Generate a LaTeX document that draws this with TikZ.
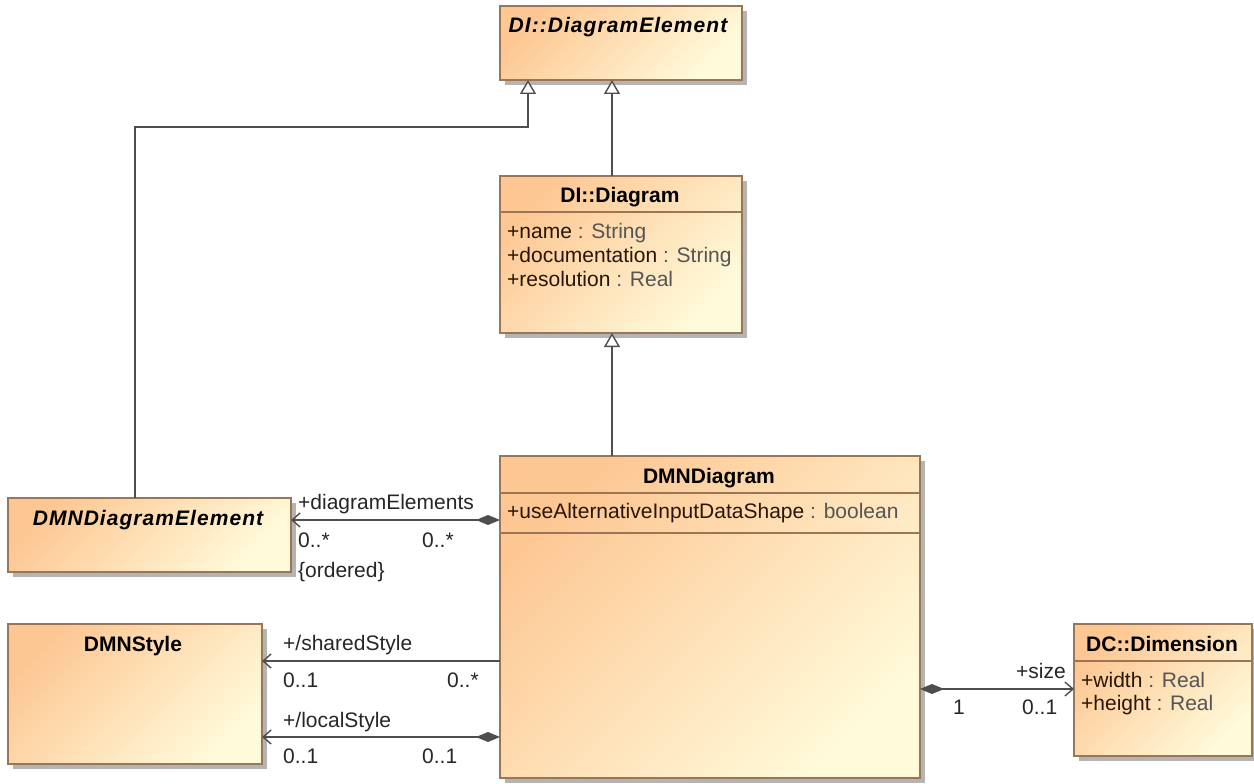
\documentclass[tikz,border=0pt]{standalone}
\usepackage{fontspec}
\setmainfont{Liberation Sans}
\usetikzlibrary{arrows.meta,shadows}
\definecolor{cA}{HTML}{FDC793}
\definecolor{cB}{HTML}{FFFADA}
\definecolor{brd}{HTML}{9A7656}
\definecolor{shd}{HTML}{B4B4B4}
\definecolor{lnc}{HTML}{4E4E4E}
\definecolor{nmc}{HTML}{2A1608}
\definecolor{tyc}{HTML}{555555}
\newcommand{\nm}[1]{\textcolor{nmc}{#1}}
\newcommand{\ty}[1]{\textcolor{tyc}{#1}}
\begin{document}
\begin{tikzpicture}[x=1pt,y=-1pt,
  font=\fontsize{21}{24}\selectfont,
  cls/.style={draw=brd, line width=1.2pt, top color=cA, bottom color=cB, shading angle=45,
    inner sep=0pt, outer sep=0pt, anchor=north west,
    drop shadow={shadow xshift=5pt, shadow yshift=-5pt, fill=shd, opacity=1}},
  divider/.style={draw=brd, line width=1.2pt},
  ttl/.style={anchor=base, inner sep=0pt, font=\fontsize{21}{24}\selectfont\bfseries},
  ittl/.style={anchor=base, inner sep=0pt, font=\fontsize{21}{24}\selectfont\bfseries\itshape\addfontfeature{LetterSpace=5}},
  attr/.style={anchor=base west, inner sep=0pt},
  lbl/.style={anchor=base west, inner sep=0pt, text=black!85},
  gen/.style={draw=lnc, line width=1.4pt, -{Triangle[open, length=14pt, width=16pt, fill=white]}},
  nav/.style={draw=lnc, line width=1.4pt, -{Straight Barb[length=8pt, width=14pt]}},
  compnav/.style={draw=lnc, line width=1.4pt, {Diamond[length=24pt, width=10pt, fill=lnc]}-{Straight Barb[length=8pt, width=14pt]}}
]
\useasboundingbox (0,0) rectangle (1254,784);
\fill[white] (0,0) rectangle (1254,784);

% classes
\node[cls, minimum width=242pt, minimum height=74pt] (de) at (500,6) {};
\node[cls, minimum width=242pt, minimum height=157pt] (dia) at (500,176) {};
\node[cls, minimum width=420pt, minimum height=322pt] (dmn) at (500,456) {};
\node[cls, minimum width=283pt, minimum height=74pt] (dme) at (8,498) {};
\node[cls, minimum width=254pt, minimum height=140pt] (sty) at (8,624) {};
\node[cls, minimum width=178pt, minimum height=132pt] (dim) at (1074,624) {};

% compartments
\draw[divider] (dia.west |- 0,212) -- (dia.east |- 0,212);
\draw[divider] (dmn.west |- 0,493) -- (dmn.east |- 0,493);
\draw[divider] (dmn.west |- 0,533) -- (dmn.east |- 0,533);
\draw[divider] (dim.west |- 0,661) -- (dim.east |- 0,661);

% titles
\node[ittl] (deT) at (618,33) {DI::DiagramElement};
\node[ttl] (diaT) at (620,202) {DI::Diagram};
\node[ttl] (dmnT) at (709,483) {DMNDiagram};
\node[ittl] (dmeT) at (148,525) {DMNDiagramElement};
\node[ttl] (styT) at (133,651) {DMNStyle};
\node[ttl] (dimT) at (1162,651) {DC::Dimension};

% attributes
\node[attr] (a1) at (507,238) {\nm{+name} \ty{: String}};
\node[attr] (a2) at (507,262) {\nm{+documentation} \ty{: String}};
\node[attr] (a3) at (507,286) {\nm{+resolution} \ty{: Real}};
\node[attr] (a4) at (507,518) {\nm{+useAlternativeInputDataShape} \ty{: boolean}};
\node[attr] (a5) at (1081,687) {\nm{+width} \ty{: Real}};
\node[attr] (a6) at (1081,710) {\nm{+height} \ty{: Real}};

% generalizations
\coordinate (gx) at (612,0);
\coordinate (b0) at (135,127);
\coordinate (b1) at (528,127);
\draw[gen] (dia.north -| gx) -- (de.south -| gx);
\draw[gen] (dmn.north -| gx) -- (dia.south -| gx);
\draw[gen] (dme.north -| b0) -- (b0) -- (b1) -- (de.south -| b1);

% associations
\draw[compnav] (dmn.west |- 0,520) -- (dme.east |- 0,520);
\draw[nav] (dmn.west |- 0,661) -- (sty.east |- 0,661);
\draw[compnav] (dmn.west |- 0,737) -- (sty.east |- 0,737);
\draw[compnav] (dmn.east |- 0,689) -- (dim.west |- 0,689);

% association labels
\node[lbl] (l1) at (298,509) {+diagramElements};
\node[lbl] (l2) at (298,547) {0..*};
\node[lbl] (l3) at (422,547) {0..*};
\node[lbl] (l4) at (298,577) {\{ordered\}};
\node[lbl] (l5) at (283,650) {+/sharedStyle};
\node[lbl] (l6) at (283,687) {0..1};
\node[lbl] (l7) at (447,687) {0..*};
\node[lbl] (l8) at (283,727) {+/localStyle};
\node[lbl] (l9) at (283,763) {0..1};
\node[lbl] (l10) at (422,763) {0..1};
\node[lbl] (l11) at (1016,678) {+size};
\node[lbl] (l12) at (953,714) {1};
\node[lbl] (l13) at (1022,714) {0..1};
\end{tikzpicture}
\end{document}
